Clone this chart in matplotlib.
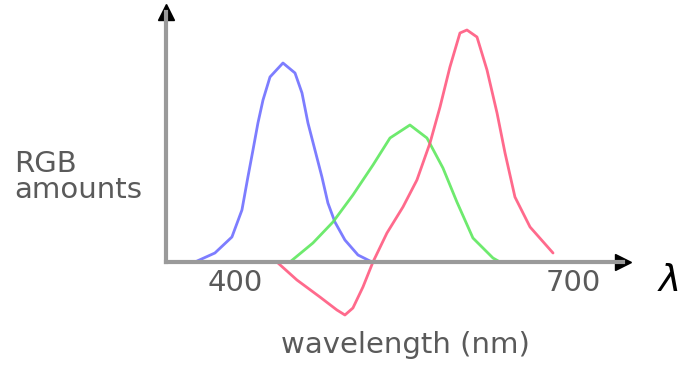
import matplotlib.pyplot as plt
import numpy as np

# curve samples (wavelength in nm, relative amount)
blue_nm = [364.5, 382.2, 397.3, 406.2, 411.5, 416.0, 420.4, 424.9, 431.1, 442.6,
           453.3, 459.5, 464.8, 471.0, 477.2, 482.5, 488.7, 497.6, 509.2, 521.6]
blue_amt = [0.0, 0.045, 0.125, 0.26, 0.425, 0.56, 0.695, 0.81, 0.925, 0.995,
            0.945, 0.845, 0.695, 0.56, 0.425, 0.295, 0.20, 0.11, 0.035, 0.0]

green_nm = [448.8, 469.2, 487.0, 504.7, 522.5, 537.6, 555.3, 570.4, 584.6, 597.0,
            611.2, 629.0, 635.2]
green_amt = [0.0, 0.095, 0.20, 0.335, 0.485, 0.62, 0.685, 0.62, 0.47, 0.30,
             0.12, 0.02, 0.0]

red_nm = [438.2, 455.0, 475.4, 490.5, 497.6, 504.7, 513.6, 522.5, 534.9, 549.1,
          561.5, 573.1, 582.0, 590.8, 599.7, 605.9, 614.8, 623.7, 632.6, 639.7,
          648.5, 661.9, 682.3]
red_amt = [-0.005, -0.09, -0.175, -0.24, -0.265, -0.23, -0.125, 0.0, 0.145, 0.275,
           0.41, 0.595, 0.775, 0.975, 1.145, 1.16, 1.125, 0.96, 0.745, 0.545,
           0.325, 0.175, 0.045]

tick_vals = [400, 700]
tick_labels = ["400", "700"]

W, H = 683, 366
fig = plt.figure(figsize=(W / 100, H / 100), dpi=100)
ax = fig.add_axes([166 / W, 104 / H, (623 - 166) / W, (262 - 12) / H])
ax.set_xlim(338.8, 744.4)
ax.set_ylim(0, 1.25)

for s in ["top", "right"]:
    ax.spines[s].set_visible(False)
for s in ["left", "bottom"]:
    ax.spines[s].set_color("#9a9a9a")
    ax.spines[s].set_linewidth(3)

# arrow heads
ax.plot(1, 0, ">", color="black", markersize=11, transform=ax.transAxes, clip_on=False)
ax.plot(0, 1, "^", color="black", markersize=11, transform=ax.transAxes, clip_on=False)

kw = dict(lw=2, alpha=0.9, clip_on=False, solid_joinstyle="round", solid_capstyle="round")
ax.plot(blue_nm, blue_amt, color="#6f6fff", **kw)
ax.plot(green_nm, green_amt, color="#5ee85e", **kw)
ax.plot(red_nm, red_amt, color="#ff5a80", **kw)

ax.set_yticks([])
ax.set_xticks(tick_vals)
ax.set_xticklabels(tick_labels, fontsize=21, color="#5a5a5a", family="DejaVu Sans")
ax.tick_params(axis="x", length=0, pad=5)

fig.text(405 / W, 1 - 345 / H, "wavelength (nm)", ha="center", va="center",
         fontsize=21, color="#5a5a5a", family="DejaVu Sans")
fig.text(14 / W, 1 - 177 / H, "RGB\namounts", ha="left", va="center",
         fontsize=21, color="#5a5a5a", family="DejaVu Sans", linespacing=0.95)
fig.text(670 / W, 1 - 281 / H, "λ", ha="center", va="center",
         fontsize=27, color="black", style="italic", family="DejaVu Sans")

fig.savefig("out.png", dpi=100)
